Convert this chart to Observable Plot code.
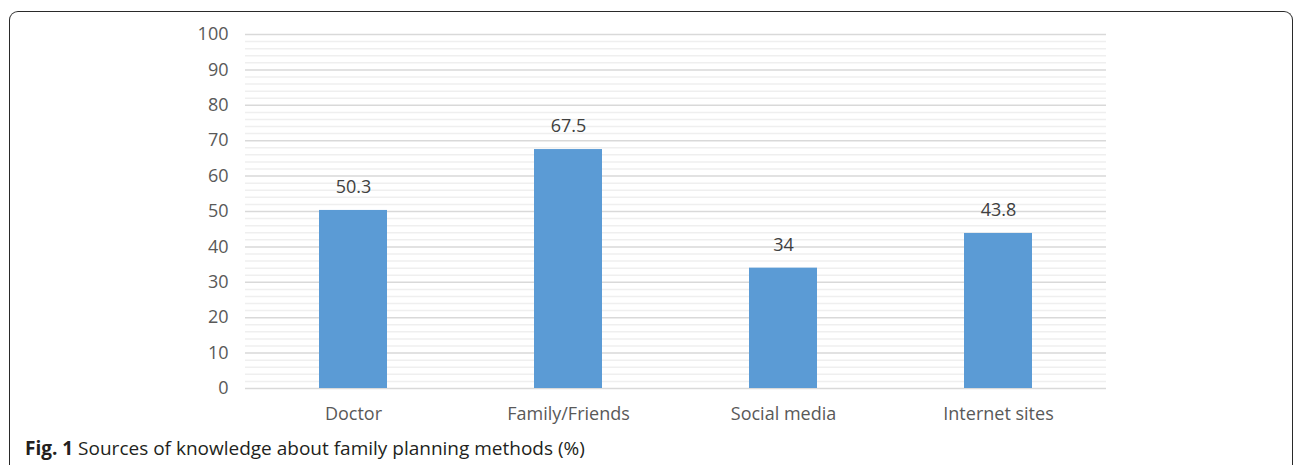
<!DOCTYPE html>
<html>
<head>
<meta charset="utf-8">
<script src="https://cdn.jsdelivr.net/npm/d3@7"></script>
<script src="https://cdn.jsdelivr.net/npm/@observablehq/plot@0.6"></script>
<style>
  html, body { margin: 0; padding: 0; background: #fff; }
  body { width: 1293px; height: 465px; position: relative; overflow: hidden; font-family: "Open Sans", sans-serif; }
  #frame { position: absolute; left: 9px; top: 11px; width: 1284px; height: 470px; border: 1.6px solid #2a2a2a; border-bottom: none; border-radius: 9px 9px 0 0; box-sizing: border-box; }
  #chart { position: absolute; left: 0; top: 0; }
  #caption { position: absolute; left: 25px; top: 435px; font-size: 19px; color: #231f20; white-space: nowrap; }
  #caption b { font-weight: 700; }
</style>
</head>
<body>
<div id="frame"></div>
<div id="chart"></div>
<div id="caption"><b>Fig. 1</b> Sources of knowledge about family planning methods (%)</div>
<script>
const categories = ["Doctor", "Family/Friends", "Social media", "Internet sites"];
const values = [50.3, 67.5, 34, 43.8];
const valueLabels = ["50.3", "67.5", "34", "43.8"];
const yTicks = [0, 10, 20, 30, 40, 50, 60, 70, 80, 90, 100];
const minorTicks = d3.range(0, 101, 2).filter(v => v % 10 !== 0);

const data = categories.map((c, i) => ({category: c, value: values[i], label: valueLabels[i]}));

const chart = Plot.plot({
  width: 1293,
  height: 430,
  marginLeft: 245,
  marginRight: 187,
  marginTop: 34,
  marginBottom: 42,
  style: {fontFamily: "Open Sans, sans-serif", fontSize: "18px", color: "#595959", background: "transparent"},
  x: {domain: categories, paddingInner: 0.684, paddingOuter: 0.342, label: null},
  y: {domain: [0, 100], label: null},
  marks: [
    Plot.ruleY(minorTicks, {stroke: "#efefef", strokeWidth: 1.5}),
    Plot.ruleY(yTicks, {stroke: "#d9d9d9", strokeWidth: 1.5}),
    Plot.barY(data, {x: "category", y: "value", fill: "#5b9bd5"}),
    Plot.text(data, {x: "category", y: "value", text: "label", dy: -23, fill: "#404040", fontSize: 18}),
    Plot.axisY({ticks: yTicks, tickSize: 0, tickPadding: 17, fill: "#595959", fontSize: 18}),
    Plot.axisX({tickSize: 0, tickPadding: 19, fill: "#595959", fontSize: 18})
  ]
});
document.getElementById("chart").appendChild(chart);
</script>
</body>
</html>
